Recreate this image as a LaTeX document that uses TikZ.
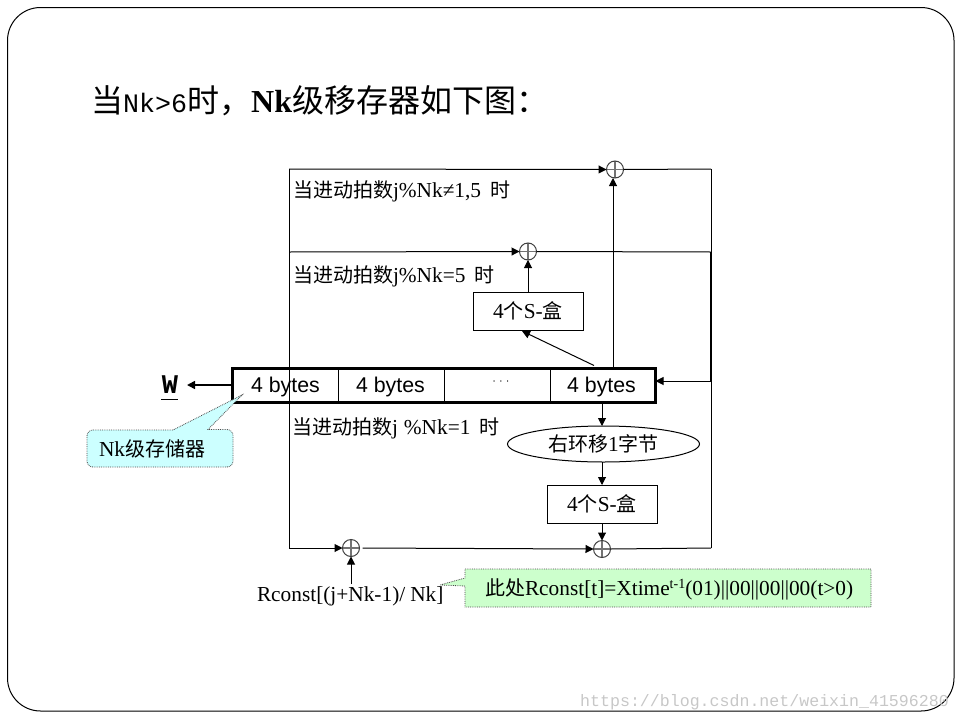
\documentclass[tikz,border=0pt]{standalone}
\usepackage{fontspec}
\setmainfont{Liberation Serif}
\setsansfont{Liberation Sans}
\setmonofont{Liberation Mono}
\newfontfamily\cjk{Noto Sans CJK SC}
\usetikzlibrary{arrows.meta,calc,shapes.geometric}
\definecolor{callblue}{RGB}{204,255,255}
\definecolor{callgreen}{RGB}{204,255,204}
\newcommand{\fsz}[1]{\fontsize{#1}{#1}\selectfont}
\newcommand{\cn}[1]{{\cjk\fsz{20}#1}}
\newcommand{\supt}[1]{\raisebox{7pt}{\fsz{14}#1}}
\tikzset{
  x=1pt,y=-1pt,
  line/.style={line width=1pt,draw=black},
  arr/.style={line width=1pt,draw=black,-{Triangle[length=8pt,width=8pt]}},
  xorc/.style={circle,draw=black!75,line width=1pt,minimum size=17pt,inner sep=0pt,outer sep=0pt,
    path picture={\draw[black!55,line width=1.2pt]
      (path picture bounding box.north)--(path picture bounding box.south)
      (path picture bounding box.west)--(path picture bounding box.east);}},
  boxn/.style={rectangle,draw=black,line width=1pt,minimum width=110pt,minimum height=38pt,inner sep=0pt,outer sep=0pt,font=\fsz{21.33}},
  lbl/.style={anchor=base west,inner sep=0pt,outer sep=0pt,font=\fsz{21.33}},
  byt/.style={inner sep=0pt,font=\sffamily\fsz{21.33}},
  call/.style={line width=0.8pt,draw=black!70,densely dotted},
}
\begin{document}
\begin{tikzpicture}
\useasboundingbox (0,0) rectangle (960,720);
\draw[line width=1pt,rounded corners=33pt] (7.5,7.5) rectangle (954,711);

% watermark
\node[anchor=base west,inner sep=0pt,text=black!22,font=\ttfamily\fsz{16.6}] (wm) at (580,706) {https://blog.csdn.net/weixin\_41596280};

% title
\node[anchor=base west,inner sep=0pt,font=\fsz{32}] (title) at (91,112)
  {{\cjk 当}{\ttfamily\fsz{26.67}Nk>6}{\cjk 时，}{\bfseries Nk}{\cjk 级移存器如下图：}};

% anchors
\coordinate (tl) at (289,169);
\coordinate (tr) at (711,169);
\coordinate (ml) at (289,252);
\coordinate (mr) at (711,252);
\coordinate (bl) at (289,548);
\coordinate (br) at (711,548);
\coordinate (fb) at (711,381);

% xors
\node[xorc] (x1) at (615,169.5) {};
\node[xorc] (x2) at (528,251.5) {};
\node[xorc] (x3) at (351,548) {};
\node[xorc] (x4) at (602,549) {};

% register
\node[rectangle,draw=black,line width=3pt,minimum width=423pt,minimum height=34pt,inner sep=0pt,outer sep=0pt] (reg) at (444,385) {};
\coordinate (d1t) at (338,368); \coordinate (d1b) at (338,402);
\coordinate (d2t) at (444,368); \coordinate (d2b) at (444,402);
\coordinate (d3t) at (550,368); \coordinate (d3b) at (550,402);
\draw[line] (d1t)--(d1b) (d2t)--(d2b) (d3t)--(d3b);
\node[byt] (b1) at (285.5,386.5) {4 bytes};
\node[byt] (b2) at (390.5,386.5) {4 bytes};
\node[byt] (b3) at (501,383) {\fsz{11}· · ·};
\node[byt] (b4) at (601.5,386.5) {4 bytes};

% boxes
\node[boxn] (s1) at (528,311) {4\cn{个}S-\cn{盒}};
\node[boxn] (s2) at (602,504) {4\cn{个}S-\cn{盒}};
\node[ellipse,draw=black,line width=1pt,minimum width=192pt,minimum height=36pt,inner sep=0pt,outer sep=0pt,font=\fsz{21.33}] (ro) at (603.5,444) {\cn{右环移}1\cn{字节}};

% lines
\draw[line] (tl)--(bl);
\draw[arr] (tl)--(x1.west);
\draw[line] (x1.east)--(tr);
\draw[arr] (ml)--(x2.west);
\draw[line] (x2.east)--(mr);
\draw[line] (tr)--(mr);
\draw[line width=1.7pt] (mr)--(fb);
\draw[line] (fb)--(br);
\draw[arr] (fb)--(reg.east|-fb);
\draw[arr] (bl)--(x3.west);
\draw[arr,shorten <=3pt] (x3.east)--(x4.west);
\draw[line] (x4.east)--(br);

\coordinate (r1) at (613,367);
\coordinate (r2) at (594,365.5);
\coordinate (r3) at (602,403);
\draw[arr] (r1)--(613,178);
\draw[arr] (s1.north)--(x2.south);
\draw[arr] (r2)--(522,331);
\draw[arr] (r3)--(ro.north-|r3);
\draw[arr] (ro.south-|r3)--(s2.north-|r3);
\draw[arr] (s2.south-|r3)--(x4.north);

% W
\node[inner sep=0pt,font=\ttfamily\bfseries\fsz{27}] (w) at (170,385) {W};
\coordinate (wu1) at (161,399.5); \coordinate (wu2) at (178,399.5);
\draw[line width=1.6pt] (wu1)--(wu2);
\draw[line width=1.6pt,-{Triangle[length=8pt,width=8pt]}] (reg.west|-0,385)--(187,385);

% labels
\node[lbl] (l1) at (293,197) {\cn{当进动拍数}j\%Nk≠1,5\hspace{9pt}\cn{时}};
\node[lbl] (l2) at (293,282) {\cn{当进动拍数}j\%Nk=5\hspace{9pt}\cn{时}};
\node[lbl] (l3) at (292,434) {\cn{当进动拍数}j\hspace{6pt}\%Nk=1\hspace{9pt}\cn{时}};

% Rconst
\node[lbl] (rc) at (257,601) {Rconst[(j+Nk-1)/\hspace{5pt}Nk]};
\draw[arr] (351,584)--(x3.south);

% callouts
\filldraw[call,fill=callblue] (93,430) -- (173,430) -- (242,395) -- (208,429.5) -- (227,429.5)
  arc[start angle=90,end angle=0,radius=6pt] -- (233,461)
  arc[start angle=0,end angle=-90,radius=6pt] -- (93,467)
  arc[start angle=270,end angle=180,radius=6pt] -- (87,436)
  arc[start angle=180,end angle=90,radius=6pt] -- cycle;
\node[lbl] (c1) at (99,456) {Nk\cn{级存储器}};

\filldraw[call,fill=callgreen] (465,569) -- (871,569) -- (871,607) -- (465,607) -- (465,586) -- (440,585) -- (465,578) -- cycle;
\node[lbl] (c2) at (485,595) {\cn{此处}Rconst[t]=Xtime\supt{t-1}(01)||00||00||00(t>0)};
\end{tikzpicture}
\end{document}
